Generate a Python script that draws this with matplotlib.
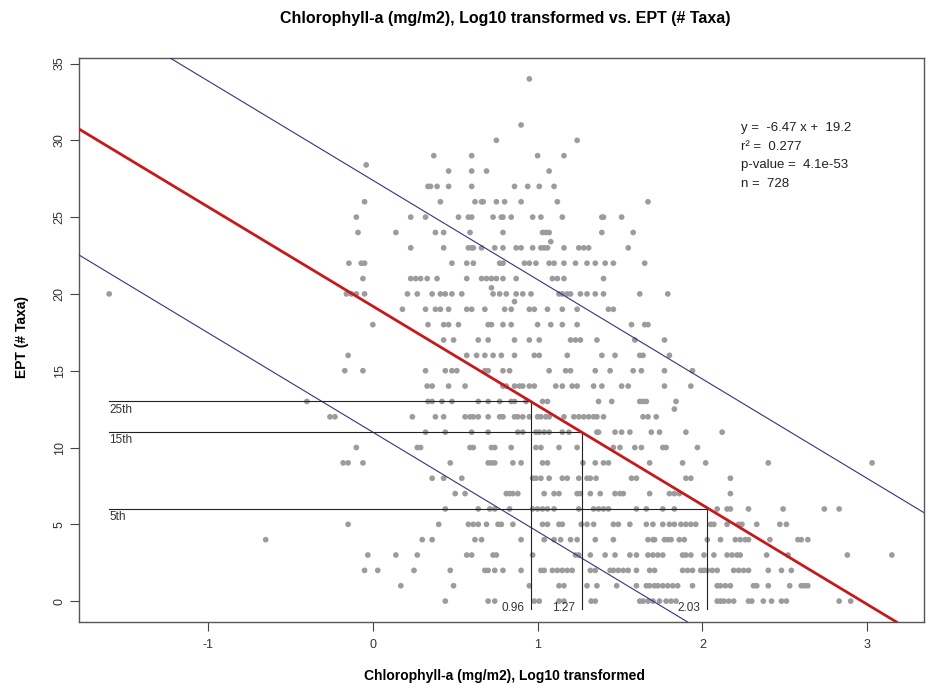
import matplotlib
matplotlib.use("Agg")
import matplotlib.pyplot as plt
import numpy as np

plt.rcParams['font.family'] = ['Liberation Sans', 'DejaVu Sans']

# ---- data: Chlorophyll-a (log10) values for each EPT count ----
ept_00 = [0.44, 0.70, 0.74, 0.98, 1.01, 1.13, 1.16, 1.325, 1.35, 1.62, 1.64, 1.67, 1.70, 1.74, 1.78, 1.81, 1.84,
          2.09, 2.11, 2.13, 2.16, 2.19, 2.28, 2.30, 2.37, 2.42, 2.48, 2.51, 2.83, 2.90]
ept_01 = [0.17, 0.49, 0.95, 1.13, 1.16, 1.30, 1.36, 1.48, 1.60, 1.66, 1.68, 1.71, 1.73, 1.76, 1.79, 1.82, 1.85,
          1.94, 2.09, 2.11, 2.14, 2.17, 2.31, 2.33, 2.40, 2.53, 2.60, 2.62, 2.64]
ept_02 = [-0.05, 0.03, 0.25, 0.47, 0.68, 0.70, 0.74, 0.79, 0.90, 1.02, 1.04, 1.09, 1.12, 1.15, 1.18, 1.21, 1.32,
          1.35, 1.44, 1.46, 1.49, 1.52, 1.55, 1.60, 1.68, 1.71, 1.88, 1.91, 1.94, 1.99, 2.01, 2.03, 2.06, 2.09,
          2.19, 2.22, 2.25, 2.28, 2.40, 2.48, 2.54]
ept_03 = [-0.03, 0.14, 0.27, 0.57, 0.60, 0.73, 0.75, 0.97, 1.23, 1.25, 1.32, 1.41, 1.47, 1.56, 1.60, 1.67, 1.70,
          1.73, 1.76, 1.88, 1.90, 1.93, 2.01, 2.07, 2.15, 2.18, 2.21, 2.23, 2.39, 2.52, 2.88, 3.15]
ept_04 = [-0.65, 0.30, 0.36, 0.62, 0.66, 0.90, 1.04, 1.10, 1.14, 1.20, 1.24, 1.35, 1.46, 1.67, 1.70, 1.71, 1.77,
          1.79, 1.81, 1.86, 1.89, 2.03, 2.11, 2.20, 2.23, 2.26, 2.28, 2.41, 2.58, 2.60, 2.64]
ept_05 = [-0.15, 0.40, 0.58, 0.61, 0.64, 0.69, 0.76, 0.78, 0.85, 1.03, 1.06, 1.13, 1.15, 1.265, 1.30, 1.34, 1.46,
          1.49, 1.56, 1.66, 1.70, 1.76, 1.80, 1.83, 1.87, 1.90, 1.93, 1.96, 2.05, 2.07, 2.15, 2.22, 2.24, 2.33,
          2.47, 2.51]
ept_06 = [0.44, 0.64, 0.71, 0.74, 0.83, 0.97, 1.00, 1.03, 1.06, 1.10, 1.25, 1.34, 1.37, 1.40, 1.43, 1.60, 1.66,
          1.76, 1.83, 2.09, 2.15, 2.17, 2.28, 2.49, 2.74, 2.83]
ept_07 = [0.50, 0.56, 0.81, 0.83, 0.85, 0.88, 1.04, 1.10, 1.13, 1.24, 1.26, 1.32, 1.38, 1.47, 1.50, 1.52, 1.68,
          1.80, 1.83, 1.86, 2.17]
ept_08 = [0.36, 0.43, 0.54, 0.97, 0.99, 1.02, 1.07, 1.15, 1.18, 1.25, 1.30, 1.32, 1.355, 1.57, 1.60, 1.90, 1.93,
          2.17]
ept_09 = [-0.18, -0.15, -0.06, 0.47, 0.70, 0.72, 0.74, 0.85, 0.90, 1.03, 1.06, 1.275, 1.35, 1.40, 1.43, 1.68,
          1.88, 2.02, 2.40, 3.03]
ept_10 = [-0.10, 0.27, 0.29, 0.59, 0.61, 0.72, 0.74, 0.84, 0.99, 1.02, 1.13, 1.24, 1.46, 1.50, 1.59, 1.63, 1.76,
          1.78, 1.97]
ept_11 = [0.32, 0.44, 0.60, 0.70, 0.88, 0.91, 0.99, 1.01, 1.04, 1.07, 1.15, 1.19, 1.36, 1.37, 1.47, 1.51, 1.56,
          1.69, 1.74, 1.90, 2.12]
ept_12 = [-0.26, -0.23, 0.24, 0.38, 0.43, 0.56, 0.59, 0.61, 0.64, 0.70, 0.77, 0.79, 0.86, 0.88, 0.91, 0.95, 1.00,
          1.02, 1.05, 1.07, 1.16, 1.22, 1.25, 1.28, 1.31, 1.34, 1.36, 1.40, 1.64, 1.67, 1.72]
ept_13 = [-0.40, 0.335, 0.36, 0.42, 0.48, 0.64, 0.70, 0.77, 0.84, 0.86, 0.93, 1.03, 1.06, 1.37, 1.45, 1.62, 1.64,
          1.66, 1.84]
ept_14 = [0.33, 0.36, 0.46, 0.56, 0.79, 0.81, 0.86, 0.89, 0.91, 0.95, 0.98, 1.11, 1.15, 1.21, 1.24, 1.34, 1.39,
          1.51, 1.55, 1.77, 1.93]
ept_15 = [-0.17, -0.06, 0.32, 0.44, 0.48, 0.51, 0.68, 0.70, 0.79, 0.83, 1.07, 1.17, 1.20, 1.35, 1.44, 1.58, 1.63,
          1.77, 1.94]
ept_16 = [-0.15, 0.57, 0.63, 0.68, 0.73, 0.78, 0.86, 0.98, 1.01, 1.18, 1.39, 1.47, 1.62, 1.64, 1.80]
ept_17 = [0.43, 0.49, 0.64, 0.70, 0.86, 0.95, 1.01, 1.20, 1.23, 1.26, 1.36, 1.59, 1.77]
ept_18 = [0.00, 0.335, 0.43, 0.46, 0.52, 0.70, 0.72, 0.79, 0.84, 1.00, 1.08, 1.15, 1.24, 1.57, 1.65, 1.67]
ept_19 = [0.18, 0.32, 0.38, 0.41, 0.46, 0.57, 0.60, 0.68, 0.80, 0.84, 0.95, 0.98, 1.06, 1.15, 1.24, 1.43, 1.46]
ept_20 = [-1.60, -0.16, -0.13, -0.10, -0.05, 0.21, 0.27, 0.36, 0.41, 0.44, 0.48, 0.54, 0.73, 0.77, 0.81, 0.87,
          0.91, 0.96, 1.13, 1.15, 1.18, 1.20, 1.26, 1.30, 1.35, 1.40, 1.62, 1.79]
ept_21 = [-0.06, 0.23, 0.26, 0.29, 0.33, 0.39, 0.57, 0.66, 0.69, 0.72, 0.75, 0.79, 0.87, 1.09, 1.12, 1.16, 1.40]
ept_22 = [-0.145, -0.07, -0.05, 0.48, 0.57, 0.61, 0.77, 0.79, 0.92, 0.95, 0.99, 1.07, 1.10, 1.16, 1.23, 1.30,
          1.35, 1.41, 1.46, 1.65]
ept_23 = [0.23, 0.43, 0.58, 0.60, 0.61, 0.66, 0.74, 0.79, 0.87, 0.90, 0.97, 1.02, 1.04, 1.06, 1.16, 1.25, 1.28,
          1.31, 1.55]
ept_24 = [-0.09, 0.14, 0.38, 0.43, 0.59, 0.79, 1.03, 1.05, 1.07, 1.39, 1.58]
ept_25 = [-0.10, 0.23, 0.32, 0.52, 0.58, 0.60, 0.73, 0.78, 0.79, 0.84, 0.97, 1.02, 1.15, 1.39, 1.40, 1.51]
ept_26 = [-0.05, 0.41, 0.62, 0.66, 0.67, 0.75, 0.80, 0.90, 1.12, 1.67]
ept_27 = [0.335, 0.35, 0.39, 0.46, 0.60, 0.86, 0.94, 1.01, 1.10]
ept_28 = [0.46, 0.60, 0.69, 1.07]
ept_29 = [0.37, 0.60, 1.00, 1.16]
ept_30 = [0.75, 1.24]
ept_31 = [0.90]
ept_34 = [0.95]
# a few points that sit between integer rows
odd_x = [-0.04, 1.08, 0.72, 0.86, 1.83]
odd_y = [28.4, 23.4, 20.4, 19.5, 12.5]

ept_levels = list(range(0, 32)) + [34]
chl_rows = [ept_00, ept_01, ept_02, ept_03, ept_04, ept_05, ept_06, ept_07, ept_08, ept_09,
            ept_10, ept_11, ept_12, ept_13, ept_14, ept_15, ept_16, ept_17, ept_18, ept_19,
            ept_20, ept_21, ept_22, ept_23, ept_24, ept_25, ept_26, ept_27, ept_28, ept_29,
            ept_30, ept_31, ept_34]

# regression and bounding lines
slope = -6.47
intercept = 19.2
upper_intercept = 27.4
lower_intercept = 11.0

# percentile thresholds
pct_labels = ["25th", "15th", "5th"]
pct_y = [13, 11, 6]
pct_x = [0.96, 1.27, 2.03]

stats_lines = ["y =  -6.47 x +  19.2", "r\u00b2 =  0.277", "p-value =  4.1e-53", "n =  728"]

title = "Chlorophyll-a (mg/m2), Log10 transformed vs. EPT (# Taxa)"
xlabel = "Chlorophyll-a (mg/m2), Log10 transformed"
ylabel = "EPT (# Taxa)"
xticks = [-1, 0, 1, 2, 3]
yticks = [0, 5, 10, 15, 20, 25, 30, 35]

# ---- build point arrays ----
xs = []
ys = []
for lvl, row in zip(ept_levels, chl_rows):
    xs.extend(row)
    ys.extend([lvl] * len(row))
xs.extend(odd_x)
ys.extend(odd_y)
xs = np.array(xs)
ys = np.array(ys)

fig = plt.figure(figsize=(9.33, 6.88), dpi=100)
ax = fig.add_axes([79 / 933, 1 - 622 / 688, (924 - 79) / 933, (622 - 58) / 688])

ax.scatter(xs, ys, s=17, color='#9c9c9c', edgecolors='none', zorder=2)

ax.set_xlim(-1.783, 3.345)
ax.set_ylim(-1.36, 35.36)

# regression line and bounds
ax.axline((0, intercept), slope=slope, color='#c81818', lw=2.0, zorder=4)
ax.axline((0, upper_intercept), slope=slope, color='#34347e', lw=0.8, zorder=3)
ax.axline((0, lower_intercept), slope=slope, color='#34347e', lw=0.8, zorder=3)

# percentile guide lines
xmin_data = xs.min()
for lab, py, px in zip(pct_labels, pct_y, pct_x):
    ax.plot([xmin_data, px], [py, py], color='#222222', lw=0.8, zorder=3)
    ax.plot([px, px], [-0.5, py], color='#222222', lw=0.8, zorder=3)
    ax.text(xmin_data, py - 0.15, lab, ha='left', va='top', fontsize=8.5, color='#333333')
    ax.text(px - 0.04, -0.05, f"{px:.2f}", ha='right', va='top', fontsize=8.5, color='#333333')

# stats text
for i, line in enumerate(stats_lines):
    ax.text(0.784, 0.875 - i * 0.0328, line, transform=ax.transAxes, ha='left', va='center',
            fontsize=9.5, color='#222222')

ax.set_xticks(xticks)
ax.set_yticks(yticks)
ax.set_xticklabels([str(t) for t in xticks], fontsize=9, color='#333333')
ax.set_yticklabels([str(t) for t in yticks], fontsize=9, color='#333333', rotation=90, va='center')
ax.tick_params(direction='out', length=6.5, width=0.8, color='#444444', pad=6)
ax.tick_params(axis='y', pad=3)
for sp in ax.spines.values():
    sp.set_color('#555555')
    sp.set_linewidth(1.0)

fig.text(505 / 933, 1 - 18 / 688, title, ha='center', va='center', fontsize=11.5, fontweight='bold')
fig.text(505 / 933, 1 - 676 / 688, xlabel, ha='center', va='center', fontsize=10, fontweight='bold')
fig.text(22 / 933, 1 - 337 / 688, ylabel, ha='center', va='center', fontsize=10, fontweight='bold',
         rotation=90)

fig.savefig("out.png", dpi=100)
